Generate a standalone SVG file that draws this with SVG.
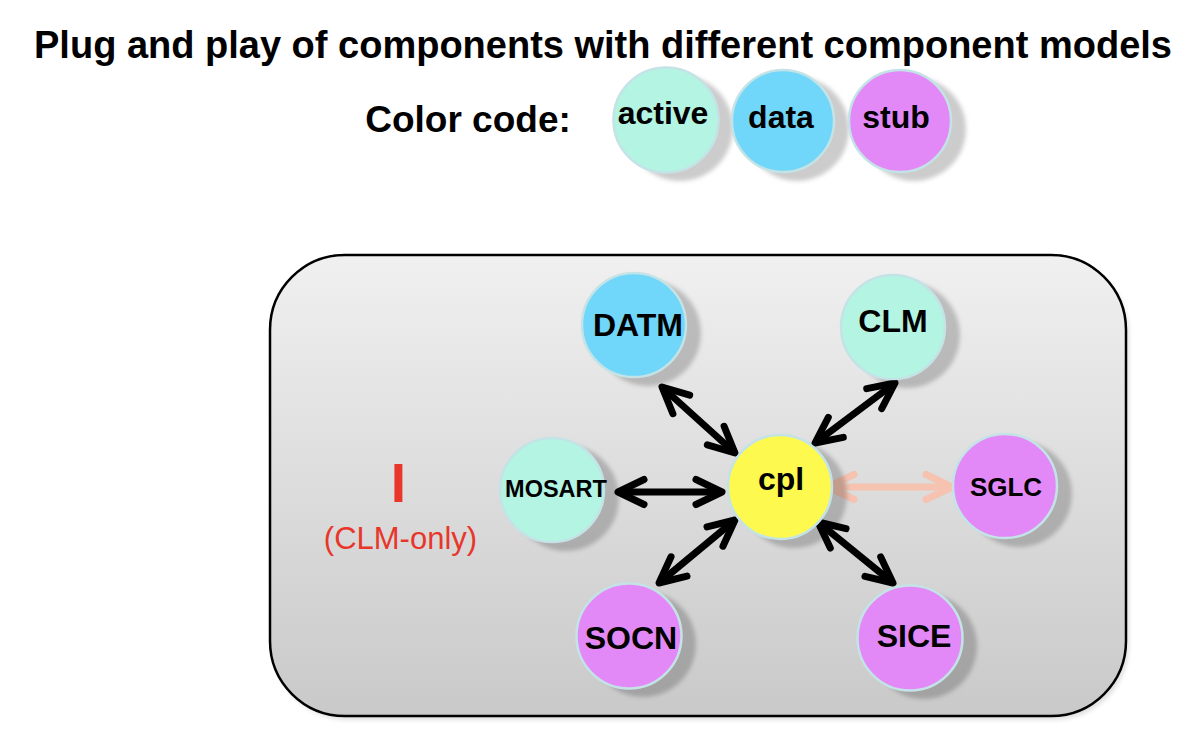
<svg xmlns="http://www.w3.org/2000/svg" width="1194" height="748" viewBox="0 0 1194 748">
<style>
.title{font-family:"Liberation Sans",Arial,sans-serif;font-weight:bold;fill:#000}
.lbl{font-family:"Liberation Sans",Arial,sans-serif;font-weight:bold;font-size:32px;fill:#000;text-anchor:middle}
.sm{font-size:23.5px}
.md{font-size:26px}
.node{stroke:#c4e3e6;stroke-width:2.5}
.shadow{fill:#000;fill-opacity:0.2;filter:url(#blur)}
.active{fill:#b4f4e3}
.data{fill:#70d6fa}
.stub{fill:#e389f7}
.cpl{fill:#fdf94f}
.conn{stroke:#000;stroke-width:7;fill:none;marker-start:url(#chev);marker-end:url(#chev)}
.conn2{stroke:#f5c3b0;stroke-width:7;fill:none;marker-start:url(#chev2);marker-end:url(#chev2)}
.red{font-family:"Liberation Sans",Arial,sans-serif;fill:#e8372a;text-anchor:middle}
</style>
<defs>
<linearGradient id="bg" x1="0" y1="0" x2="0" y2="1">
<stop offset="0" stop-color="#f0f0f0"/>
<stop offset="1" stop-color="#c9c9c9"/>
</linearGradient>
<filter id="blur" x="-20%" y="-20%" width="140%" height="140%"><feGaussianBlur stdDeviation="2"/></filter>
<marker id="chev" markerUnits="userSpaceOnUse" markerWidth="60" markerHeight="60" refX="0" refY="0" orient="auto-start-reverse" overflow="visible">
<path d="M-26,-12.5 L0,0 L-26,12.5" fill="none" stroke="#000" stroke-width="7" stroke-linecap="round" stroke-linejoin="round"/>
</marker>
<marker id="chev2" markerUnits="userSpaceOnUse" markerWidth="60" markerHeight="60" refX="0" refY="0" orient="auto-start-reverse" overflow="visible">
<path d="M-26,-12.5 L0,0 L-26,12.5" fill="none" stroke="#f5c3b0" stroke-width="7" stroke-linecap="round" stroke-linejoin="round"/>
</marker>
</defs>
<rect width="1194" height="748" fill="#fff"/>
<text class="title" x="603" y="58" font-size="38" text-anchor="middle">Plug and play of components with different component models</text>
<text class="title" x="468" y="132" font-size="37" text-anchor="middle">Color code:</text>
<g id="legend-active">
<circle class="shadow" cx="680" cy="128" r="53"/>
<circle class="node active" cx="666" cy="120" r="52.5"/>
<text class="lbl" x="663" y="124">active</text>
</g>
<g id="legend-data">
<circle class="shadow" cx="797" cy="129" r="52"/>
<circle class="node data" cx="783" cy="121" r="51"/>
<text class="lbl" x="781" y="128">data</text>
</g>
<g id="legend-stub">
<circle class="shadow" cx="914" cy="129" r="52"/>
<circle class="node stub" cx="900" cy="121" r="51"/>
<text class="lbl" x="896" y="128">stub</text>
</g>
<g id="container">
<rect x="273" y="259" width="856" height="461" rx="75" fill="#000" fill-opacity="0.12" filter="url(#blur)"/>
<rect x="270" y="255" width="856" height="461" rx="75" fill="url(#bg)" stroke="#000" stroke-width="2.5"/>
</g>
<g id="clm-only">
<text class="red" x="398.5" y="502" font-size="55" font-weight="bold">I</text>
<text class="red" x="400.5" y="549" font-size="31">(CLM-only)</text>
</g>
<g id="connectors">
<line class="conn" x1="662" y1="387" x2="735" y2="453"/>
<line class="conn" x1="895" y1="383" x2="815" y2="443"/>
<line class="conn" x1="618" y1="492" x2="722" y2="492"/>
<line class="conn" x1="735" y1="520" x2="659" y2="583"/>
<line class="conn" x1="818" y1="522" x2="893" y2="583"/>
<line class="conn2" x1="828" y1="487" x2="952" y2="487"/>
</g>
<g id="DATM">
<circle class="shadow" cx="648" cy="333" r="53"/>
<circle class="node data" cx="634" cy="325" r="52"/>
<text class="lbl" x="638" y="336">DATM</text>
</g>
<g id="CLM">
<circle class="shadow" cx="907" cy="335" r="53"/>
<circle class="node active" cx="893" cy="327" r="52"/>
<text class="lbl" x="893" y="332">CLM</text>
</g>
<g id="MOSART">
<circle class="shadow" cx="566" cy="498" r="53"/>
<circle class="node active" cx="552" cy="490" r="52"/>
<text class="lbl sm" x="556" y="497">MOSART</text>
</g>
<g id="cpl">
<circle class="shadow" cx="794" cy="495" r="53"/>
<circle class="node cpl" cx="780" cy="487" r="52"/>
<text class="lbl" x="781" y="490">cpl</text>
</g>
<g id="SGLC">
<circle class="shadow" cx="1019" cy="494" r="53"/>
<circle class="node stub" cx="1005" cy="486" r="52"/>
<text class="lbl md" x="1006" y="496">SGLC</text>
</g>
<g id="SOCN">
<circle class="shadow" cx="643" cy="644" r="53"/>
<circle class="node stub" cx="629" cy="636" r="52.5"/>
<text class="lbl" x="631" y="649">SOCN</text>
</g>
<g id="SICE">
<circle class="shadow" cx="924" cy="646" r="53"/>
<circle class="node stub" cx="910" cy="638" r="52.5"/>
<text class="lbl" x="914" y="647">SICE</text>
</g>
</svg>
